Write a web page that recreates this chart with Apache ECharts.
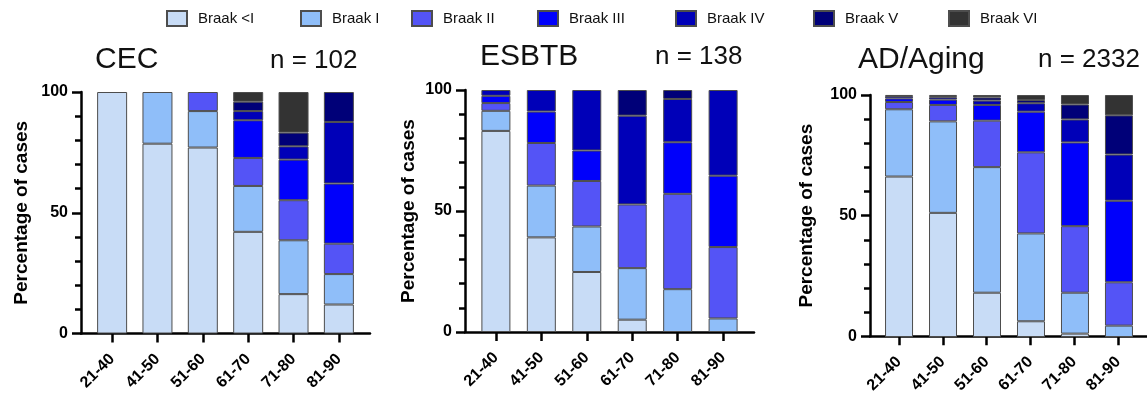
<!DOCTYPE html>
<html>
<head>
<meta charset="utf-8">
<script src="https://cdn.jsdelivr.net/npm/echarts@6/dist/echarts.min.js"></script>
<style>html,body{margin:0;padding:0;background:#fff}#c{width:1147px;height:396px}</style>
</head>
<body>
<div id="c"></div>
<script>
// ---- data ----
const categories = ['21-40', '41-50', '51-60', '61-70', '71-80', '81-90'];
const stageNames = ['Braak <I', 'Braak I', 'Braak II', 'Braak III', 'Braak IV', 'Braak V', 'Braak VI'];
const panelTitles = ['CEC', 'ESBTB', 'AD/Aging'];
const panelCounts = ['n = 102', 'n = 138', 'n = 2332'];
const yTicks = [0, 50, 100];

// CEC (% of cases per Braak stage, by age group)
const cecLtI  = [100, 78.6, 77.0, 42.1, 16.3, 12.0];
const cecI    = [0, 21.4, 15.1, 19.0, 22.3, 12.6];
const cecII   = [0, 0, 7.9, 11.6, 16.6, 12.6];
const cecIII  = [0, 0, 0, 15.6, 16.8, 24.9];
const cecIV   = [0, 0, 0, 3.8, 5.5, 25.5];
const cecV    = [0, 0, 0, 3.9, 5.7, 12.4];
const cecVI   = [0, 0, 0, 4.0, 16.8, 0];

// ESBTB
const esbLtI  = [83.1, 39.1, 24.8, 5.1, 0, 0];
const esbI    = [8.3, 21.4, 18.8, 21.3, 17.7, 5.6];
const esbII   = [3.2, 17.6, 18.8, 26.3, 39.4, 29.5];
const esbIII  = [3.0, 13.0, 12.6, 0, 21.3, 29.5];
const esbIV   = [2.4, 8.9, 25.0, 36.7, 17.9, 35.4];
const esbV    = [0, 0, 0, 10.6, 3.7, 0];
const esbVI   = [0, 0, 0, 0, 0, 0];

// AD/Aging
const adLtI   = [66.3, 51.3, 18.3, 6.5, 1.4, 0];
const adI     = [27.8, 37.8, 51.9, 36.3, 16.9, 4.7];
const adII    = [3.0, 6.8, 19.2, 33.5, 27.5, 17.9];
const adIII   = [1.5, 2.2, 6.5, 16.8, 34.6, 33.7];
const adIV    = [1.0, 1.0, 1.8, 3.5, 9.5, 19.1];
const adV     = [0.4, 0.5, 1.3, 1.3, 6.2, 16.2];
const adVI    = [0, 0.4, 1.0, 2.1, 3.9, 8.4];

const panelData = [
  [cecLtI, cecI, cecII, cecIII, cecIV, cecV, cecVI],
  [esbLtI, esbI, esbII, esbIII, esbIV, esbV, esbVI],
  [adLtI, adI, adII, adIII, adIV, adV, adVI]
];

// ---- style / layout ----
const colors = ['#c8dcf6', '#8fbef9', '#5454f6', '#0000fb', '#0000b8', '#000078', '#333333'];
const FONT = '"Liberation Sans", Arial, Helvetica, sans-serif';
const layout = [
  {axisX: 81,  xEnd: 370,  y100: 92, y0: 333.5, pad: 0.686, barW: 30, nameGap: 50,
   title: {left: 95, top: 45}, count: {left: 270, top: 48}},
  {axisX: 465, xEnd: 754,  y100: 90, y0: 332,   pad: 0.68,  barW: 29, nameGap: 47,
   title: {left: 480, top: 42}, count: {left: 655, top: 44}},
  {axisX: 870, xEnd: 1148, y100: 95, y0: 337,   pad: 0.66,  barW: 28, nameGap: 54,
   title: {left: 858, top: 45}, count: {left: 1038, top: 47}}
];
const legendLeft = [166, 300, 411, 537, 675, 813, 948];

const n = categories.length;
const idx = categories.map((c, i) => i);
const grids = [], xAxes = [], yAxes = [], series = [], titles = [];
const yMin = yTicks[0], yMax = yTicks[yTicks.length - 1];

layout.forEach((L, p) => {
  const w = L.xEnd - L.axisX;
  const h = L.y0 - L.y100;
  const step = w / (n - 1 + 2 * L.pad);
  // visible axes grid (index 2p) and bar grid (index 2p+1) sharing the same scale
  grids.push({left: L.axisX, top: L.y100, width: w, height: h});
  grids.push({left: L.axisX + (L.pad - 0.5) * step, top: L.y100, width: n * step, height: h});

  xAxes.push({
    type: 'value', gridIndex: 2 * p, min: -L.pad, max: n - 1 + L.pad,
    splitLine: {show: false},
    axisLine: {show: true, onZero: false, lineStyle: {color: '#000', width: 2.5}},
    axisTick: {show: true, customValues: idx, length: 9, lineStyle: {color: '#000', width: 2.5}},
    axisLabel: {show: true, customValues: idx, formatter: v => categories[Math.round(v)],
      rotate: 45, margin: 23, color: '#000', fontFamily: FONT, fontWeight: 'bold', fontSize: 16}
  });
  xAxes.push({
    type: 'category', gridIndex: 2 * p + 1, data: categories, boundaryGap: true,
    axisLine: {show: false}, axisTick: {show: false}, axisLabel: {show: false}, splitLine: {show: false}
  });

  yAxes.push({
    type: 'value', gridIndex: 2 * p, min: yMin, max: yMax, interval: yTicks[1] - yTicks[0],
    splitLine: {show: false},
    axisLine: {show: true, onZero: false, lineStyle: {color: '#000', width: 2.5}},
    axisTick: {show: true, length: 9, lineStyle: {color: '#000', width: 2.5}},
    minorTick: {show: true, splitNumber: 5, length: 6, lineStyle: {color: '#000', width: 2.5}},
    minorSplitLine: {show: false},
    axisLabel: {margin: 13, color: '#000', fontFamily: FONT, fontWeight: 'bold', fontSize: 16},
    name: 'Percentage of cases', nameLocation: 'middle', nameGap: L.nameGap,
    nameTextStyle: {color: '#000', fontFamily: FONT, fontWeight: 'bold', fontSize: 19}
  });
  yAxes.push({
    type: 'value', gridIndex: 2 * p + 1, min: yMin, max: yMax, show: false,
    splitLine: {show: false}
  });

  stageNames.forEach((s, k) => {
    series.push({
      type: 'bar', name: s, xAxisIndex: 2 * p + 1, yAxisIndex: 2 * p + 1, stack: 'p' + p,
      barWidth: L.barW,
      itemStyle: {color: colors[k], borderColor: '#4d4d4d', borderWidth: 1},
      emphasis: {disabled: true},
      data: panelData[p][k].map(v => (v > 0 ? v : '-'))
    });
  });
  titles.push({text: panelTitles[p], left: L.title.left, top: L.title.top, padding: 0,
    textStyle: {fontFamily: FONT, fontSize: 30, fontWeight: 'normal', color: '#111'}});
  titles.push({text: panelCounts[p], left: L.count.left, top: L.count.top, padding: 0,
    textStyle: {fontFamily: FONT, fontSize: 26, fontWeight: 'normal', color: '#111'}});
});

const legends = stageNames.map((s, k) => ({
  data: [s], left: legendLeft[k], top: 10, padding: 0, itemWidth: 20, itemHeight: 15, itemGap: 0,
  selectedMode: false, icon: 'rect',
  textStyle: {fontFamily: FONT, fontSize: 15, color: '#111', padding: [0, 0, 0, 6]}
}));

const chart = echarts.init(document.getElementById('c'), null, {renderer: 'canvas'});
chart.setOption({
  animation: false,
  backgroundColor: '#fff',
  title: titles,
  legend: legends,
  grid: grids,
  xAxis: xAxes,
  yAxis: yAxes,
  series: series
});
</script>
</body>
</html>
